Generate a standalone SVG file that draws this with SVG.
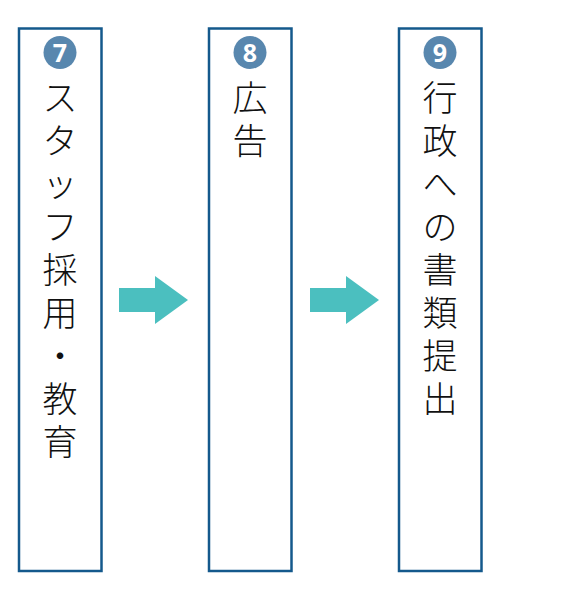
<svg xmlns="http://www.w3.org/2000/svg" width="575" height="600" viewBox="0 0 575 600">
<style>
.box{fill:#fff;stroke:#14598c;stroke-width:2.5}
.badge{fill:#5887ae}
.num{fill:#fff;font-family:"Noto Sans","DejaVu Sans",sans-serif;font-weight:bold;font-size:25px;text-anchor:middle}
.ch{fill:#111;font-family:"Noto Sans CJK JP",sans-serif;font-weight:300;font-size:35px;text-anchor:middle}
.arrow{fill:#4bbfbf}
</style>
<rect width="575" height="600" fill="#fff"/>
<g id="connectors">
<polygon class="arrow" points="119,288 155,288 155,276 188,300 155,324 155,312 119,312"/>
<polygon class="arrow" points="310,288 346,288 346,276 379,300 346,324 346,312 310,312"/>
</g>
<g id="node7">
<rect class="box" x="19" y="28.5" width="82.5" height="542.5"/>
<circle class="badge" cx="60" cy="52.5" r="16.5"/>
<text class="num" x="60" y="61.5">7</text>
<text class="ch"><tspan x="60" y="111">ス</tspan><tspan x="60" dy="43">タ</tspan><tspan x="60" dy="43">ッ</tspan><tspan x="60" dy="43">フ</tspan><tspan x="60" dy="43">採</tspan><tspan x="60" dy="43">用</tspan><tspan x="60" dy="43">・</tspan><tspan x="60" dy="43">教</tspan><tspan x="60" dy="43">育</tspan></text>
</g>
<g id="node8">
<rect class="box" x="209" y="28.5" width="82.5" height="542.5"/>
<circle class="badge" cx="250" cy="52.5" r="16.5"/>
<text class="num" x="250" y="61.5">8</text>
<text class="ch"><tspan x="250" y="111">広</tspan><tspan x="250" dy="43">告</tspan></text>
</g>
<g id="node9">
<rect class="box" x="399" y="28.5" width="82.5" height="542.5"/>
<circle class="badge" cx="440" cy="52.5" r="16.5"/>
<text class="num" x="440" y="61.5">9</text>
<text class="ch"><tspan x="440" y="111">行</tspan><tspan x="440" dy="43">政</tspan><tspan x="440" dy="43">へ</tspan><tspan x="440" dy="43">の</tspan><tspan x="440" dy="43">書</tspan><tspan x="440" dy="43">類</tspan><tspan x="440" dy="43">提</tspan><tspan x="440" dy="43">出</tspan></text>
</g>
</svg>
